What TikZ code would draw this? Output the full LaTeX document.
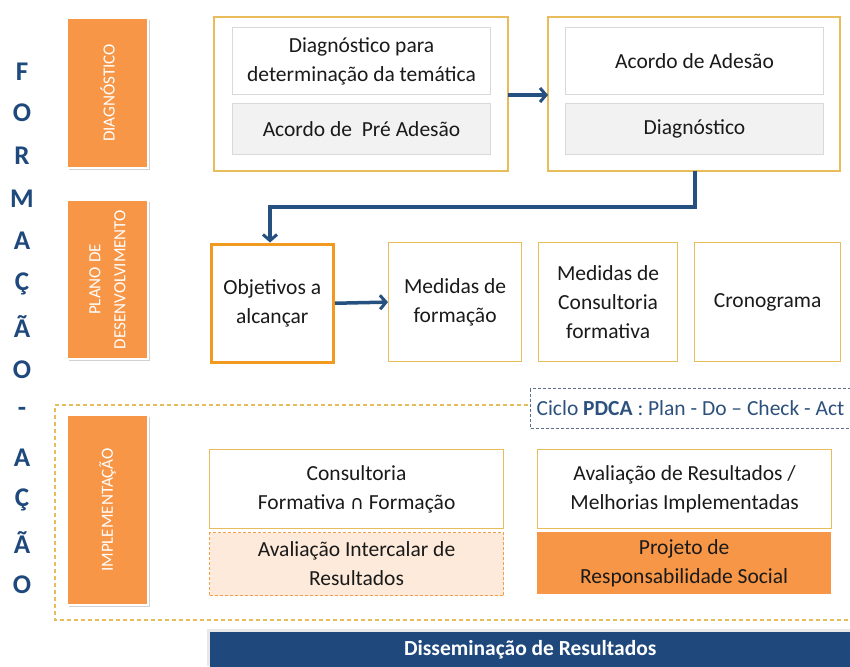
\documentclass[tikz,border=0pt]{standalone}
\usepackage{fontspec}
\setmainfont{Carlito}
\newfontfamily\djv{DejaVu Sans}
\usetikzlibrary{shadows,arrows.meta}
\definecolor{orng}{HTML}{F79646}
\definecolor{gold}{HTML}{E8BC5A}
\definecolor{dblue}{HTML}{1F497D}
\definecolor{arrblue}{HTML}{25507F}
\definecolor{lgray}{HTML}{F2F2F2}
\definecolor{lborder}{HTML}{D9D9D9}
\definecolor{peach}{HTML}{FDEADA}
\definecolor{objor}{HTML}{F29A1F}
\definecolor{pdcab}{HTML}{5A6F8C}
\definecolor{txt}{HTML}{1A1A1A}
\begin{document}
\begin{tikzpicture}[x=1pt,y=-1pt,
  every node/.style={font=\fontsize{21.5}{29}\selectfont,text=txt,inner sep=0pt},
  sidebox/.style={fill=orng,draw=white,line width=1.5pt,drop shadow={shadow xshift=1.5pt,shadow yshift=-2pt,opacity=0.35,fill=gray}},
  sidetxt/.style={rotate=90,text=white,font=\fontsize{17}{25}\selectfont,align=center},
  grp/.style={draw=gold,line width=1.2pt,fill=white},
  wbox/.style={draw=lborder,fill=white,line width=1pt},
  gbox/.style={draw=lborder,fill=lgray,line width=1pt},
  obox/.style={draw=gold,fill=white,line width=1.2pt},
  conn/.style={draw=arrblue,line width=3.5pt,-{Straight Barb[length=6pt,width=14pt,line width=3pt]}},
  bigl/.style={text=dblue,font=\fontsize{27}{27}\bfseries\selectfont}
]
\useasboundingbox (0,0) rectangle (850,666);
\fill[white] (0,0) rectangle (850,666);

% vertical word
\foreach \c/\yy in {F/72,O/113,R/156,M/199,A/241,Ç/284,Ã/327,O/370,-/412,A/458,Ç/500,Ã/543,O/585}
  \node[bigl] at (22,\yy) {\c};

% dashed implementation container
\draw[gold,line width=1.3pt,dash pattern=on 4pt off 3pt] (850,405) -- (55,405) -- (55,620) -- (850,620);

% side boxes
\draw[sidebox] (67,18) rectangle (148,168);
\node[sidetxt] (sd) at (107.5,93) {DIAGNÓSTICO};
\draw[sidebox] (67,200) rectangle (148,359);
\node[sidetxt] (sp) at (107.5,279.5) {PLANO DE\\DESENVOLVIMENTO};
\draw[sidebox] (67,415) rectangle (148,605);
\node[sidetxt] (si) at (107.5,510) {IMPLEMENTAÇÃO};

% group 1
\draw[grp] (214,17) rectangle (508,171);
\node[wbox,minimum width=258pt,minimum height=67pt,align=center,anchor=north west] (d1) at (232,27) {Diagnóstico para\\determinação da temática};
\node[gbox,minimum width=258pt,minimum height=51pt,anchor=north west] (d2) at (232,103) {Acordo de\ \ Pré Adesão};
\coordinate (g1) at (508,95);
% group 2
\draw[grp] (548,17) rectangle (840,171);
\node[wbox,minimum width=258pt,minimum height=67pt,anchor=north west] (a1) at (565,27) {Acordo de Adesão};
\node[gbox,minimum width=258pt,minimum height=51pt,anchor=north west] (a2) at (565,103) {Diagnóstico};
\coordinate (g2) at (548,95);
\coordinate (g2b) at (695,171);
\draw[conn] (g1) -- (g2);

% plan row
\node[draw=objor,line width=3.5pt,fill=white,minimum width=122pt,minimum height=118pt,align=center,anchor=north west] (obj) at (209.5,242.5) {Objetivos a\\alcançar};
\node[obox,minimum width=133pt,minimum height=119pt,align=center,anchor=north west] (mf) at (388,242) {Medidas de\\formação};
\node[obox,minimum width=139pt,minimum height=119pt,align=center,anchor=north west] (mc) at (538,242) {Medidas de\\Consultoria\\formativa};
\node[obox,minimum width=146pt,minimum height=119pt,align=center,anchor=north west] (cr) at (694,242) {Cronograma};
\draw[conn] (g2b) -- (695,207) -- (270,207) -- (obj.north -| 270,0);
\draw[conn] (obj.east) -- (mf.west);

% PDCA
\node[draw=pdcab,dash pattern=on 3pt off 2pt,line width=1pt,fill=white,minimum width=320pt,minimum height=40pt,anchor=north west,text=dblue!85!gray] (pdca) at (530,388) {Ciclo \textbf{PDCA} : Plan - Do – Check - Act};

% implementation boxes
\node[obox,minimum width=294pt,minimum height=79pt,align=center,anchor=north west] (cf) at (209,449) {Consultoria\\Formativa {\djv\fontsize{19}{19}\selectfont ∩} Formação};
\node[draw=orng!80!gold,dash pattern=on 3pt off 2pt,line width=1pt,fill=peach,minimum width=294pt,minimum height=63pt,align=center,anchor=north west] (ai) at (209,532) {Avaliação Intercalar de\\Resultados};
\node[obox,minimum width=294pt,minimum height=79pt,align=center,anchor=north west] (ar) at (537,449) {Avaliação de Resultados /\\Melhorias Implementadas};
\node[fill=orng,minimum width=294pt,minimum height=62pt,align=center,anchor=north west] (pr) at (537,532) {Projeto de\\Responsabilidade Social};

% dissemination bar
\fill[lborder!60] (207,629) rectangle (850,666);
\node[fill=dblue,minimum width=640pt,minimum height=36pt,anchor=north west,text=white,font=\fontsize{21.5}{24}\bfseries\selectfont] (ds) at (210,632) {Disseminação de Resultados};
\end{tikzpicture}
\end{document}
